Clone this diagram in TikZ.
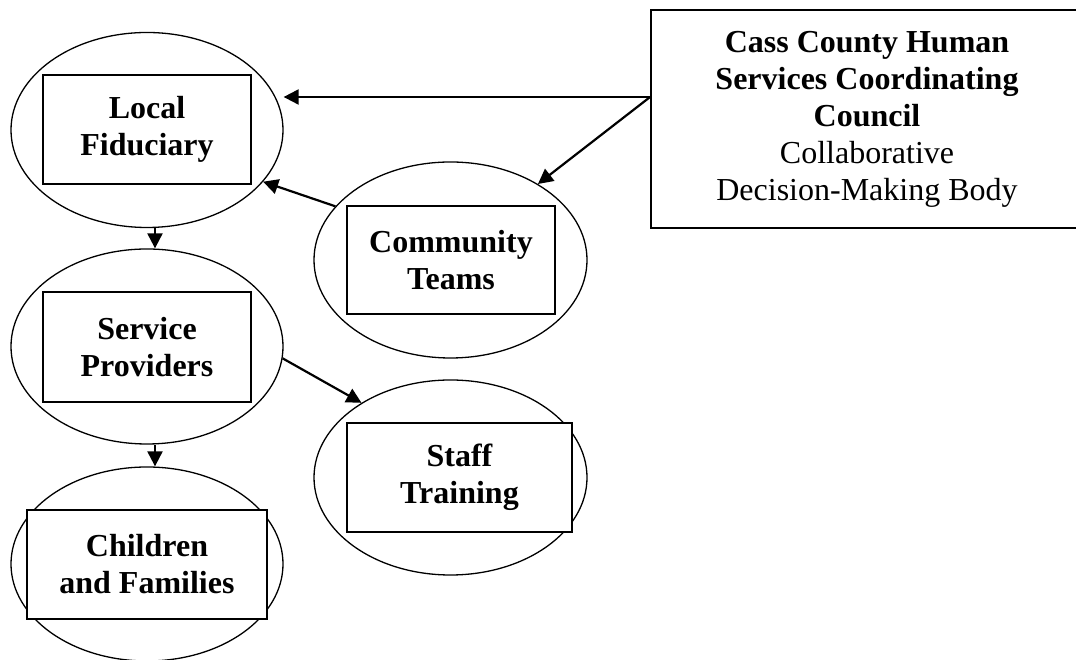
\documentclass[tikz,border=0pt]{standalone}
\usepackage{fontspec}
\setmainfont{Liberation Serif}
\usetikzlibrary{shapes.geometric,arrows.meta}

\begin{document}
\begin{tikzpicture}[x=1pt,y=1pt,
  oval/.style={ellipse,draw,line width=1.3pt,inner sep=0pt,
    minimum width=272pt,minimum height=195pt},
  tagbox/.style={rectangle,draw,fill=white,line width=1.8pt,inner sep=0pt,
    minimum height=109pt,align=center,
    font=\fontsize{32}{37}\selectfont\bfseries},
  link/.style={-{Triangle[length=15pt,width=15pt]},line width=2.2pt}
]
\useasboundingbox (0,0) rectangle (1076,660);

% left column
\node[oval] (lfo) at (147,530) {};
\node[tagbox,minimum width=208pt] (lf) at (147,530.5) {Local\\Fiduciary};
\node[oval] (spo) at (147,313.5) {};
\node[tagbox,minimum width=208pt,minimum height=110pt] (sp) at (147,313) {Service\\Providers};
\node[oval,minimum height=194pt] (cfo) at (147,96) {};
\node[tagbox,minimum width=240pt] (cf) at (147,95.5) {Children\\and Families};

% middle column
\node[oval,minimum width=273pt,minimum height=196pt] (cto) at (450.5,400) {};
\node[tagbox,minimum width=208pt,minimum height=108pt] (ct) at (451,400) {Community\\Teams};
\node[oval,minimum width=273pt] (sto) at (450.5,182.5) {};
\node[tagbox,minimum width=225pt] (st) at (459.5,182.5) {Staff\\Training};

% coordinating council
\node[rectangle,draw,line width=1.8pt,inner sep=0pt,
  minimum width=432pt,minimum height=218pt,align=center,
  font=\fontsize{32}{37}\selectfont] (council) at (867,541)
  {\textbf{Cass County Human}\\\textbf{Services Coordinating}\\\textbf{Council}\\Collaborative\\Decision-Making Body};

% connectors
\draw[link] ([yshift=22pt]council.west) -- ([yshift=33pt]lfo.east);
\draw[link] ([yshift=22pt]council.west) -- (cto.41);
\draw[link] (cto.155) -- (lfo.-24);
\draw[link] ([xshift=8pt]lfo.south) -- ([xshift=8pt]spo.north);
\draw[link] ([xshift=8pt]spo.south) -- ([xshift=8pt]cfo.north);
\draw[link] (spo.-5) -- (sto.140);
\end{tikzpicture}
\end{document}
